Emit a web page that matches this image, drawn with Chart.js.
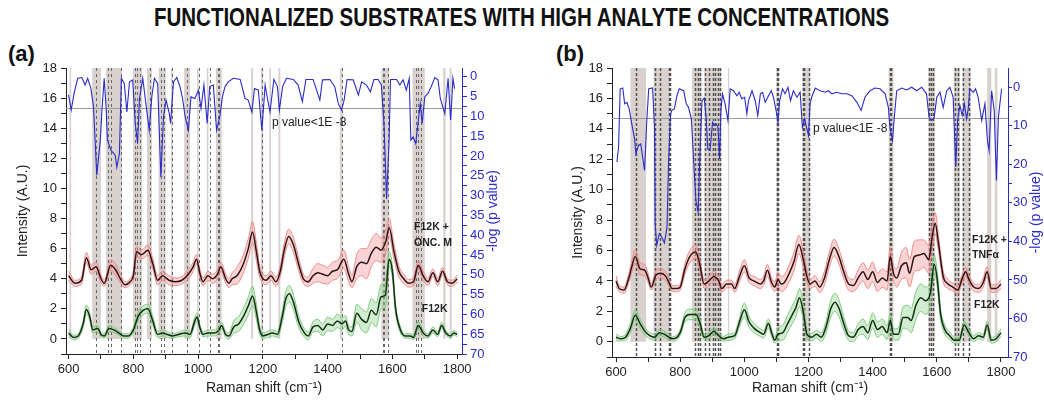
<!DOCTYPE html>
<html>
<head>
<meta charset="utf-8">
<script src="https://cdn.jsdelivr.net/npm/chart.js@4.4.1/dist/chart.umd.min.js"></script>
<style>
  body { margin: 0; background: #fff; width: 1044px; height: 400px; position: relative; overflow: hidden;
         font-family: "Liberation Sans", Arial, sans-serif; }
  #title { position: absolute; top: 3px; left: 0; width: 1044px; text-align: center; }
  #title span { display: inline-block; font-weight: bold; font-size: 25px; color: #111; transform-origin: center; white-space: nowrap; }
  .lab { position: absolute; top: 41px; font-weight: bold; font-size: 22px; color: #111; }
  .box { position: absolute; top: 40px; height: 360px; }
</style>
</head>
<body>
<div id="title"><span id="tt">FUNCTIONALIZED SUBSTRATES WITH HIGH ANALYTE CONCENTRATIONS</span></div>
<div class="lab" style="left:8px">(a)</div>
<div class="lab" style="left:556px">(b)</div>
<div class="box" style="left:0;width:520px"><canvas id="ca"></canvas></div>
<div class="box" style="left:555px;width:489px"><canvas id="cb"></canvas></div>

<script>
// ---- axis ticks ----
const shiftTicks = [600, 700, 800, 900, 1000, 1100, 1200, 1300, 1400, 1500, 1600, 1700, 1800];
const shiftLabels = [600, 800, 1000, 1200, 1400, 1600, 1800];
const intensityTicks = [-1, 0, 1, 2, 3, 4, 5, 6, 7, 8, 9, 10, 11, 12, 13, 14, 15, 16, 17, 18];
const intensityLabels = [0, 2, 4, 6, 8, 10, 12, 14, 16, 18];
const aPTicks = [0, 2.5, 5, 7.5, 10, 12.5, 15, 17.5, 20, 22.5, 25, 27.5, 30, 32.5, 35, 37.5, 40, 42.5, 45, 47.5, 50, 52.5, 55, 57.5, 60, 62.5, 65, 67.5, 70];
const aPLabels = [0, 5, 10, 15, 20, 25, 30, 35, 40, 45, 50, 55, 60, 65, 70];
const bPTicks = [0, 5, 10, 15, 20, 25, 30, 35, 40, 45, 50, 55, 60, 65, 70];
const bPLabels = [0, 10, 20, 30, 40, 50, 60, 70];
const pThreshold = 8;

// ---- panel (a): F12K + ONC. M ----
const aOncX = [600,620,640,655,670,685,700,710,730,745,760,775,790,800,810,825,845,860,875,890,910,930,950,970,985,995,1005,1015,1030,1045,1060,1070,1085,1095,1105,1120,1140,1155,1168,1180,1190,1200,1210,1225,1240,1255,1265,1280,1295,1310,1325,1340,1355,1370,1385,1400,1415,1430,1450,1465,1475,1490,1505,1520,1535,1550,1565,1580,1590,1605,1620,1635,1650,1665,1680,1695,1710,1725,1740,1755,1770,1785,1800];
const aOncMean = [4.2,3.7,3.9,5.4,4.6,4.8,4.0,3.7,4.9,4.6,4.0,3.6,3.8,4.2,5.8,5.6,5.9,5.0,3.9,4.2,3.9,3.8,3.9,4.3,4.8,5.3,4.4,3.8,4.2,4.0,4.3,4.8,4.0,3.7,4.0,4.2,5.0,6.0,7.1,5.8,4.5,4.0,3.9,4.2,3.8,4.6,5.8,6.8,6.2,5.0,4.0,3.8,4.2,4.4,4.3,4.2,4.5,4.6,5.3,4.3,3.8,4.8,5.1,5.0,5.7,6.1,5.9,6.5,7.4,5.8,4.5,4.0,3.7,3.8,4.9,4.2,3.8,4.4,3.8,4.5,3.8,3.7,4.0];
const aOncSd = [0.3,0.2,0.25,0.35,0.3,0.3,0.25,0.2,0.35,0.4,0.3,0.2,0.2,0.3,0.35,0.3,0.35,0.35,0.3,0.3,0.3,0.25,0.25,0.3,0.3,0.3,0.3,0.25,0.3,0.3,0.3,0.3,0.3,0.3,0.4,0.55,0.6,0.65,0.7,0.6,0.4,0.3,0.3,0.3,0.3,0.35,0.45,0.5,0.5,0.45,0.3,0.3,0.5,0.6,0.6,0.55,0.6,0.6,0.6,0.5,0.4,0.8,0.9,1.0,0.9,0.9,0.8,0.8,0.6,0.5,0.35,0.3,0.25,0.25,0.3,0.3,0.25,0.25,0.25,0.25,0.2,0.2,0.25];

// ---- panel (a): F12K ----
const aF12kX = [600,615,630,645,655,665,675,690,700,710,725,740,755,770,785,800,815,830,845,860,875,890,905,920,940,960,975,990,997,1005,1015,1030,1050,1065,1072,1085,1095,1110,1125,1140,1155,1168,1180,1190,1200,1215,1230,1245,1260,1270,1282,1295,1310,1325,1340,1355,1370,1385,1400,1415,1430,1445,1455,1465,1475,1490,1505,1520,1535,1550,1565,1578,1590,1600,1610,1625,1640,1655,1665,1680,1695,1710,1725,1740,1752,1765,1780,1790,1800];
const aF12kMean = [0.4,0.1,0.2,1.0,1.95,1.5,0.6,0.7,0.3,0.2,0.7,0.6,0.4,0.2,0.2,0.6,1.5,1.9,2.0,1.2,0.3,0.4,0.3,0.2,0.3,0.4,0.3,1.2,1.45,0.8,0.3,0.4,0.4,0.6,0.9,0.3,0.2,0.8,1.0,1.5,2.2,2.85,1.8,0.6,0.2,0.3,0.4,0.3,1.5,2.6,3.0,2.4,1.2,0.5,0.2,0.8,0.9,0.6,1.0,0.9,1.2,1.0,1.2,0.6,0.5,1.7,1.3,1.1,1.9,1.6,2.8,2.9,5.3,4.5,2.0,0.6,0.2,0.2,0.1,0.9,0.4,0.2,0.6,0.3,0.9,0.4,0.2,0.4,0.3];
const aF12kSd = [0.25,0.15,0.15,0.25,0.3,0.25,0.2,0.2,0.15,0.15,0.2,0.2,0.15,0.15,0.15,0.2,0.3,0.3,0.3,0.3,0.2,0.2,0.2,0.15,0.15,0.2,0.2,0.25,0.25,0.2,0.15,0.2,0.2,0.2,0.2,0.2,0.2,0.4,0.5,0.55,0.6,0.65,0.5,0.3,0.2,0.2,0.2,0.2,0.4,0.5,0.55,0.5,0.4,0.3,0.25,0.35,0.4,0.4,0.45,0.4,0.45,0.4,0.35,0.3,0.3,0.6,0.7,0.7,0.8,0.8,0.8,0.8,0.5,0.4,0.3,0.2,0.15,0.15,0.15,0.25,0.2,0.15,0.2,0.15,0.2,0.15,0.15,0.15,0.15];

// ---- panel (a): -log(p value) ----
const aPX = [600,608,617,628,641,651,659,669,677,687,698,703,710,716,720,731,744,749,757,763,772,780,788,798,806,813,819,829,840,849,857,865,875,885,893,901,911,915,924,934,944,952,960,970,978,990,1001,1009,1018,1028,1036,1047,1057,1067,1075,1083,1093,1109,1130,1145,1155,1166,1174,1186,1197,1207,1214,1222,1234,1245,1251,1261,1273,1294,1309,1322,1333,1355,1366,1376,1384,1407,1422,1433,1443,1451,1460,1479,1495,1505,1520,1532,1543,1556,1566,1574,1582,1590,1594,1613,1623,1633,1643,1652,1657,1664,1672,1679,1686,1692,1700,1710,1720,1731,1741,1748,1762,1772,1780,1787,1792];
const aPVal = [4.6,8.4,4.2,0.4,0.2,2.1,0.4,3.0,7.6,24.9,16,8.4,0.4,8,16,18.6,19.8,22.8,19.4,0.4,1.7,8.9,1.3,0.8,11.8,16.9,5.5,0.4,7.6,13.5,5.1,0.4,1.7,25.3,10.1,5.9,9.3,11.8,1.3,0.2,2.5,5.5,10.1,13.5,5.1,5.5,3.4,8,2.1,11.8,2.5,2.1,13.5,10.1,5.1,2.5,1.3,0.4,0.7,5.5,5.9,8.9,3.0,3.4,13.5,2.1,5.5,8.9,0.7,2.5,8.4,2.5,0.4,0.7,2.1,6.3,0.7,0.7,3.4,5.9,0.8,0.7,2.5,6.8,8.4,5.9,0.7,0.8,4.6,1.3,2.1,3.8,0.7,0.7,2.1,11.8,30.8,16,0.7,0.7,2.1,0.8,3.4,0.4,16,15.2,16.9,11.8,6.8,11.8,5.1,4.2,2.5,0.2,0.8,5.5,9.3,0.4,10.9,0.4,3.0];

const aBands = [[603,608],[673,700],[716,765],[799,827],[842,857],[878,900],[916,921],[957,975],[997,1002],[1027,1032],[1055,1073],[1164,1170],[1194,1201],[1220,1225],[1248,1254],[1438,1446],[1566,1590],[1662,1700],[1757,1764],[1777,1783]];
const aDashes = [686,721,732,761,804,812,821,850,885,894,919,967,1003,1037,1060,1064,1198,1443,1570,1575,1585,1672,1680,1687];

// ---- panel (b): F12K + TNFα ----
const bTnfX = [600,610,625,640,650,660,675,690,700,710,725,740,755,765,775,790,800,815,830,848,860,875,890,905,920,930,945,960,970,985,1000,1015,1030,1050,1060,1072,1085,1095,1105,1115,1125,1140,1155,1170,1185,1195,1205,1220,1235,1250,1265,1280,1295,1310,1325,1340,1355,1370,1385,1400,1415,1430,1445,1455,1465,1475,1490,1505,1515,1530,1545,1560,1575,1585,1595,1605,1620,1635,1650,1665,1680,1690,1700,1715,1730,1745,1757,1770,1785,1800];
const bTnfMean = [4.0,3.5,3.4,4.2,5.0,5.6,4.8,4.7,4.2,3.6,4.4,4.5,4.3,3.9,3.5,3.5,3.6,4.8,5.6,5.9,5.2,3.8,4.0,4.3,4.0,3.5,3.8,3.8,3.5,4.3,5.0,4.2,4.0,3.8,4.0,4.7,3.9,3.6,4.1,3.8,3.9,4.5,5.3,6.4,5.3,4.3,3.8,4.0,3.6,4.2,5.4,6.2,5.6,4.6,3.8,3.7,4.2,4.6,4.1,4.6,3.9,4.2,4.0,5.6,4.5,4.2,5.0,5.2,4.5,5.6,5.7,5.8,5.4,6.8,7.8,6.5,4.3,3.8,3.6,3.4,4.2,4.6,4.1,3.6,3.5,3.9,4.6,3.5,3.5,3.8];
const bTnfSd = [0.35,0.2,0.2,0.3,0.4,0.45,0.4,0.35,0.3,0.2,0.3,0.3,0.3,0.25,0.2,0.2,0.2,0.35,0.4,0.45,0.4,0.3,0.3,0.35,0.3,0.25,0.25,0.25,0.25,0.35,0.4,0.3,0.3,0.3,0.3,0.4,0.3,0.3,0.45,0.5,0.5,0.55,0.6,0.6,0.5,0.4,0.3,0.35,0.35,0.45,0.5,0.55,0.5,0.45,0.4,0.4,0.55,0.6,0.6,0.65,0.6,0.6,0.6,0.6,0.5,0.6,0.9,1.0,0.9,1.0,1.0,0.9,0.9,0.8,0.7,0.5,0.35,0.3,0.25,0.25,0.3,0.3,0.3,0.25,0.25,0.3,0.35,0.25,0.25,0.3];

// ---- panel (b): F12K ----
const bF12kX = [600,615,630,645,660,675,690,705,720,735,750,765,780,800,815,830,850,862,875,890,905,920,935,950,970,985,1000,1015,1030,1050,1060,1075,1085,1095,1105,1120,1135,1150,1160,1172,1185,1195,1210,1225,1240,1255,1270,1283,1295,1310,1325,1340,1355,1370,1385,1400,1415,1430,1445,1455,1465,1480,1495,1510,1520,1535,1550,1565,1580,1592,1602,1612,1625,1640,1655,1670,1685,1700,1715,1730,1745,1757,1770,1785,1800];
const bF12kMean = [0.3,0.2,0.3,0.9,1.75,1.2,0.7,0.4,0.3,0.6,0.5,0.3,0.2,0.6,1.6,1.8,1.8,1.2,0.3,0.4,0.7,0.4,0.2,0.3,0.4,1.3,2.1,1.3,0.9,0.6,0.5,1.2,0.6,0.1,0.5,0.6,1.2,1.8,2.2,2.9,1.8,0.5,0.3,0.5,0.3,1.0,2.2,2.6,2.2,1.2,0.4,0.3,0.8,1.0,0.6,1.4,0.8,1.0,0.6,1.4,0.5,0.5,1.6,1.6,1.4,2.4,2.9,2.7,3.2,5.1,4.0,1.8,0.8,0.4,0.1,0.1,1.1,0.6,0.2,0.4,0.3,1.1,0.1,0.2,0.6];
const bF12kSd = [0.2,0.15,0.2,0.3,0.35,0.3,0.25,0.2,0.2,0.2,0.2,0.2,0.15,0.2,0.3,0.35,0.35,0.3,0.2,0.2,0.25,0.2,0.15,0.2,0.2,0.3,0.45,0.35,0.3,0.25,0.25,0.3,0.25,0.2,0.4,0.5,0.55,0.6,0.6,0.6,0.5,0.3,0.25,0.25,0.3,0.4,0.55,0.6,0.55,0.45,0.3,0.3,0.4,0.5,0.45,0.5,0.5,0.5,0.45,0.45,0.35,0.4,0.7,0.8,0.8,0.9,0.9,0.9,0.8,0.6,0.5,0.35,0.3,0.25,0.2,0.2,0.25,0.25,0.2,0.2,0.2,0.25,0.2,0.2,0.25];

// ---- panel (b): -log(p value) ----
const bPX = [603,608,613,621,627,634,641,650,658,662,670,677,683,689,696,702,714,720,722,727,735,743,751,759,764,770,774,782,790,797,811,819,826,835,842,849,856,861,868,875,881,886,893,901,907,912,918,923,927,932,940,949,956,966,977,984,992,1001,1008,1013,1024,1034,1042,1050,1057,1065,1073,1084,1091,1099,1105,1110,1119,1127,1136,1144,1153,1164,1174,1181,1188,1194,1200,1205,1210,1221,1236,1252,1262,1273,1288,1304,1319,1335,1351,1364,1376,1392,1407,1423,1439,1449,1454,1462,1468,1475,1491,1506,1522,1537,1553,1568,1576,1584,1592,1600,1610,1620,1631,1641,1651,1659,1665,1672,1679,1686,1693,1698,1703,1714,1721,1729,1740,1750,1758,1763,1771,1779,1786,1792,1802];
const bPVal = [19.4,15.5,0.4,0.2,4.3,3.9,5.6,9.9,13.4,17.3,15.1,14.7,18.1,21.6,8.6,0.4,0.2,10.4,35.4,41,38,38.9,40.4,36.3,19,6.9,6,5.6,2.2,0.4,0.9,4.3,5.2,8.2,19,29.4,32.4,19,3.5,2.8,7.8,16,16.4,9.1,9.9,9.5,10.4,18.6,6,1.7,4.3,8.6,0.4,0.9,2.2,1.3,3,2.6,6.9,3.5,0.9,3.5,7.3,1.7,1.3,3.9,2.6,0.9,2.6,6,9.1,3.5,0.4,1.7,0,3.5,0.9,2.6,1.3,10.4,8.2,10.4,12.5,4.3,2.6,0.2,0.9,1.3,0.9,1.7,1.3,1.7,1.7,2.2,3.9,6,2.6,0.9,0.2,0.4,1.7,5.2,10.4,13.8,7.3,0.9,0.2,0.7,0,0.9,0,1.7,7.8,8.6,7.8,2.6,1.3,5.2,0.9,0,2.6,20.7,8.6,4.7,7.3,4.3,8.2,5.6,0.4,1.3,0.4,2.6,8.6,4.3,13.8,16.4,0.9,6,24.2,7.8,0.4];

const bBands = [[645,694],[717,769],[837,866],[876,928],[949,953],[1100,1108],[1181,1205],[1450,1465],[1574,1594],[1653,1672],[1680,1706],[1757,1770],[1781,1789]];
const bDashes = [661,720,738,766,769,847,857,863,878,890,902,909,917,923,1101,1105,1183,1187,1201,1453,1457,1576,1581,1589,1657,1667,1683,1699];

// ---- drawing ----
Chart.defaults.font.family = '"Liberation Sans", Arial, sans-serif';
const BLUE = '#2b2bc8';

const pts = (xs, ys) => xs.map((v, i) => ({ x: v, y: ys[i] }));
const edge = (xs, m, s, k) => xs.map((v, i) => ({ x: v, y: m[i] + k * s[i] }));

function marksPlugin(cfg) {
  return {
    id: 'marks',
    beforeDatasetsDraw(chart) {
      const { ctx, chartArea: a, scales: { x, y, y2 } } = chart;
      ctx.save();
      ctx.beginPath();
      ctx.rect(a.left, a.top, a.width, a.height);
      ctx.clip();
      ctx.fillStyle = 'rgb(216,209,205)';
      const yt = y.getPixelForValue(18), yb = y.getPixelForValue(0);
      cfg.bands.forEach(([b0, b1]) => {
        const x0 = x.getPixelForValue(b0), x1 = x.getPixelForValue(b1);
        ctx.fillRect(x0, yt, x1 - x0, yb - yt);
      });
      ctx.strokeStyle = cfg.dashColor;
      ctx.lineWidth = cfg.dashWidth;
      ctx.setLineDash(cfg.dash);
      cfg.dashes.forEach(v => {
        const px = Math.round(x.getPixelForValue(v)) + 0.5;
        ctx.beginPath();
        ctx.moveTo(px, a.top);
        ctx.lineTo(px, a.bottom);
        ctx.stroke();
      });
      ctx.setLineDash([]);
      const ty = Math.round(y2.getPixelForValue(pThreshold)) + 0.5;
      ctx.strokeStyle = '#9a9a9a';
      ctx.lineWidth = 1;
      ctx.beginPath();
      ctx.moveTo(a.left, ty);
      ctx.lineTo(a.right, ty);
      ctx.stroke();
      ctx.restore();
    },
    afterDatasetsDraw(chart) {
      const { ctx, chartArea: a, scales: { x, y } } = chart;
      ctx.save();
      ctx.textAlign = 'left';
      ctx.textBaseline = 'middle';
      cfg.notes.forEach(n => {
        ctx.font = n.font;
        ctx.fillStyle = '#222';
        ctx.fillText(n.text, x.getPixelForValue(n.x), y.getPixelForValue(n.y));
      });
      // right axis title reads bottom to top
      ctx.translate(a.right + cfg.rTitleOffset, (a.top + a.bottom) / 2);
      ctx.rotate(-Math.PI / 2);
      ctx.font = '14px "Liberation Sans", Arial, sans-serif';
      ctx.fillStyle = BLUE;
      ctx.textAlign = 'center';
      ctx.fillText('-log (p value)', 0, 0);
      ctx.restore();
    }
  };
}

function panel(id, cfg) {
  const line = (data, color, width, extra) => Object.assign({
    data, borderColor: color, borderWidth: width, pointRadius: 0,
    cubicInterpolationMode: 'monotone', fill: false
  }, extra || {});

  return new Chart(document.getElementById(id), {
    type: 'line',
    data: {
      datasets: [
        line(pts(cfg.redX, cfg.redMean), '#2e1414', 1.5),
        line(pts(cfg.greenX, cfg.greenMean), '#142c14', 1.5),
        line(pts(cfg.pX, cfg.pVal), BLUE, 1.1, { yAxisID: 'y2', cubicInterpolationMode: 'default', tension: 0 }),
        line(edge(cfg.redX, cfg.redMean, cfg.redSd, 1), 'rgba(238,130,130,0.9)', 1),
        line(edge(cfg.redX, cfg.redMean, cfg.redSd, -1), 'rgba(238,130,130,0.9)', 1,
             { fill: 3, backgroundColor: 'rgba(244,160,160,0.45)' }),
        line(edge(cfg.greenX, cfg.greenMean, cfg.greenSd, 1), 'rgba(120,200,120,0.9)', 1),
        line(edge(cfg.greenX, cfg.greenMean, cfg.greenSd, -1), 'rgba(120,200,120,0.9)', 1,
             { fill: 5, backgroundColor: 'rgba(150,215,150,0.45)' })
      ]
    },
    options: {
      responsive: true,
      maintainAspectRatio: false,
      animation: false,
      layout: { padding: { top: 28, left: 0, right: 0, bottom: 0 } },
      plugins: { legend: { display: false }, tooltip: { enabled: false } },
      scales: {
        x: {
          type: 'linear', min: cfg.xMin, max: cfg.xMax,
          afterBuildTicks: s => { s.ticks = shiftTicks.map(v => ({ value: v })); },
          afterFit: s => { s.height = cfg.xH; },
          ticks: { autoSkip: false, maxRotation: 0, padding: 3, color: '#222', font: { size: 13 },
                   callback: v => shiftLabels.includes(v) ? String(v) : '' },
          grid: { drawOnChartArea: false, color: '#222', tickLength: 5 },
          border: { color: '#222', width: 1 },
          title: { display: true, text: 'Raman shift (cm⁻¹)', color: '#222', font: { size: 14 }, padding: { top: 2, bottom: 3 } }
        },
        y: {
          position: 'left', min: -1, max: 18,
          afterBuildTicks: s => { s.ticks = intensityTicks.map(v => ({ value: v })); },
          afterFit: s => { s.width = cfg.yW; },
          ticks: { autoSkip: false, padding: 4, color: '#222', font: { size: 13 },
                   callback: v => intensityLabels.includes(v) ? String(v) : '' },
          grid: { drawOnChartArea: false, color: '#222', tickLength: 5 },
          border: { color: '#222', width: 1 },
          title: { display: true, text: 'Intensity (A.U.)', color: '#222', font: { size: 14 }, padding: { top: 15, bottom: 0 } }
        },
        y2: {
          position: 'right', min: cfg.pMin, max: 70, reverse: true,
          afterBuildTicks: s => { s.ticks = cfg.pTicks.map(v => ({ value: v })); },
          afterFit: s => { s.width = cfg.y2W; },
          ticks: { autoSkip: false, padding: cfg.y2Pad, color: BLUE, font: { size: 13 },
                   callback: v => cfg.pLabels.includes(v) ? String(v) : '' },
          grid: { drawOnChartArea: false, color: BLUE, tickLength: cfg.y2Tick },
          border: { color: BLUE, width: 1 }
        }
      }
    },
    plugins: [marksPlugin(cfg)]
  });
}

panel('ca', {
  xMin: 592, xMax: 1815, pMin: -2.2, xH: 46, yW: 66, y2W: 58, y2Pad: 3, y2Tick: 5, rTitleOffset: 31,
  redX: aOncX, redMean: aOncMean, redSd: aOncSd,
  greenX: aF12kX, greenMean: aF12kMean, greenSd: aF12kSd,
  pX: aPX, pVal: aPVal, pTicks: aPTicks, pLabels: aPLabels,
  bands: aBands, dashes: aDashes, dashColor: '#666', dashWidth: 1, dash: [3, 3],
  notes: [
    { text: 'p value<1E -8', x: 1228, y: 14.4, font: '12px "Liberation Sans", Arial, sans-serif' },
    { text: 'F12K +', x: 1667, y: 7.4, font: 'bold 10.5px "Liberation Sans", Arial, sans-serif' },
    { text: 'ONC. M', x: 1667, y: 6.4, font: 'bold 10.5px "Liberation Sans", Arial, sans-serif' },
    { text: 'F12K', x: 1691, y: 2.0, font: 'bold 10.5px "Liberation Sans", Arial, sans-serif' }
  ]
});

panel('cb', {
  xMin: 587.5, xMax: 1822, pMin: -5, xH: 43, yW: 57, y2W: 36, y2Pad: 1, y2Tick: 4, rTitleOffset: 28,
  redX: bTnfX, redMean: bTnfMean, redSd: bTnfSd,
  greenX: bF12kX, greenMean: bF12kMean, greenSd: bF12kSd,
  pX: bPX, pVal: bPVal, pTicks: bPTicks, pLabels: bPLabels,
  bands: bBands, dashes: bDashes, dashColor: '#505050', dashWidth: 1.5, dash: [3, 2],
  notes: [
    { text: 'p value<1E -8', x: 1214, y: 14.0, font: '12px "Liberation Sans", Arial, sans-serif' },
    { text: 'F12K +', x: 1710, y: 6.7, font: 'bold 10.5px "Liberation Sans", Arial, sans-serif' },
    { text: 'TNFα', x: 1710, y: 5.7, font: 'bold 10.5px "Liberation Sans", Arial, sans-serif' },
    { text: 'F12K', x: 1716, y: 2.4, font: 'bold 10.5px "Liberation Sans", Arial, sans-serif' }
  ]
});

// squeeze the title to the width it has in the figure
const tt = document.getElementById('tt');
tt.style.transform = 'scaleX(' + (735 / tt.offsetWidth) + ')';
</script>
</body>
</html>
